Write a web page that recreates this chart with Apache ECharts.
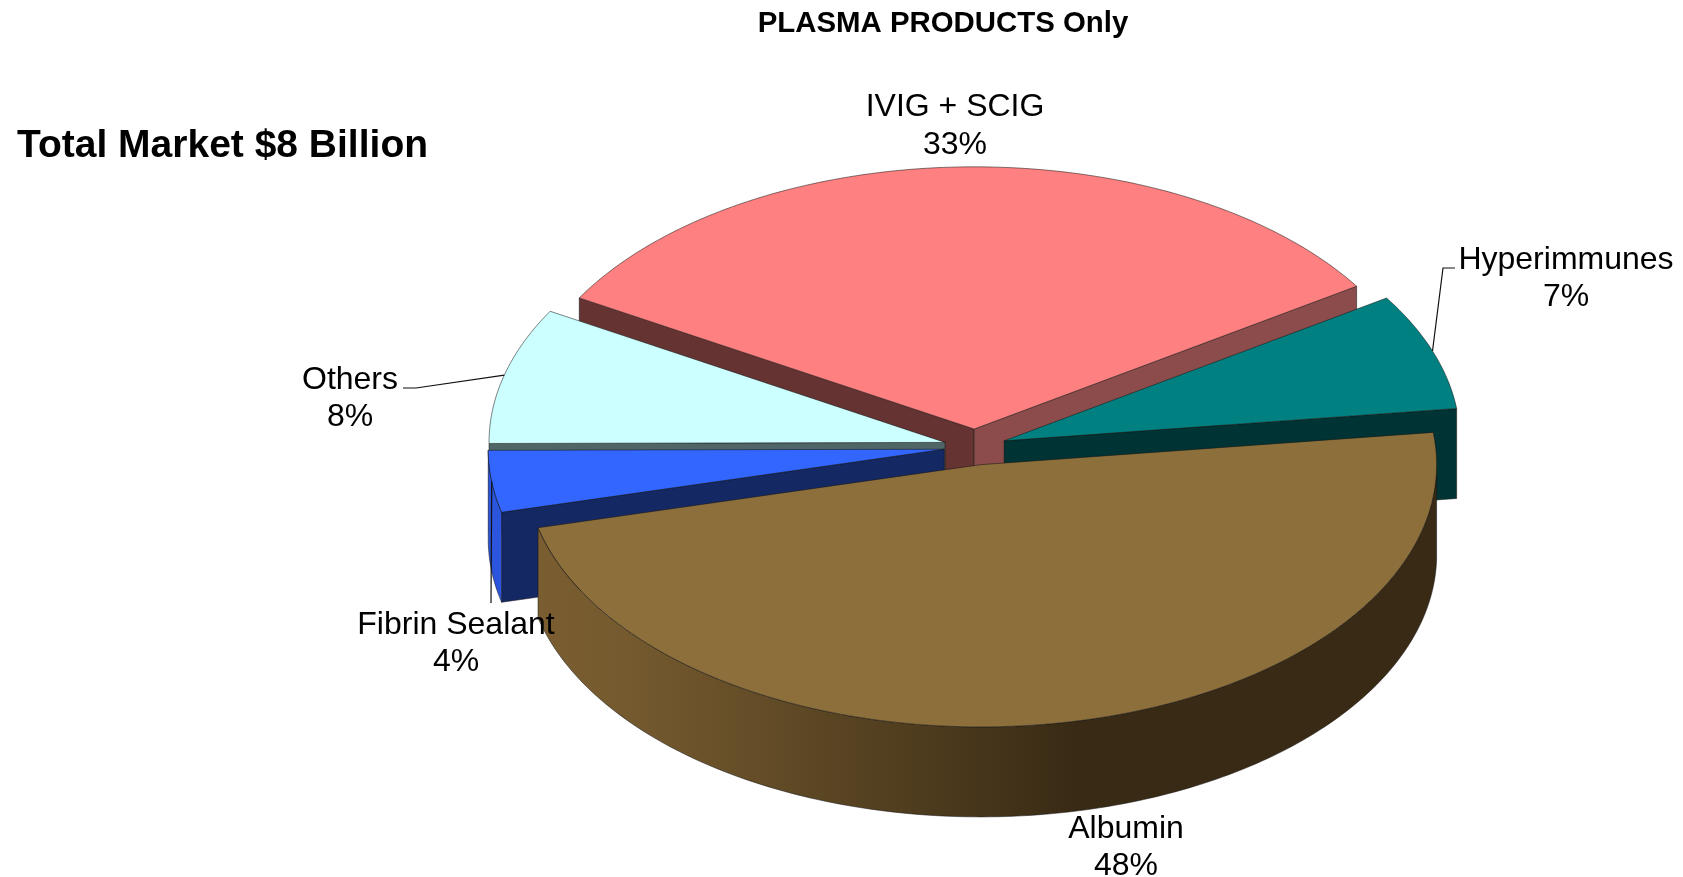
<!DOCTYPE html>
<html><head><meta charset="utf-8">
<style>html,body{margin:0;padding:0;background:#fff}#c{width:1683px;height:877px}</style>
<script src="https://cdn.jsdelivr.net/npm/echarts@6/dist/echarts.min.js"></script>
</head><body><div id="c"></div>
<script>
// Data, clockwise from the first slice (labels show them rounded)
const categories = ['IVIG + SCIG', 'Hyperimmunes', 'Albumin', 'Fibrin Sealant', 'Others'];
const shares = [32.5, 7.2, 48.1, 3.8, 8.4];
const chartTitle = 'PLASMA PRODUCTS Only';
const marketNote = 'Total Market $8 Billion';

// Styles
const topColors = ['#FF8080', '#008080', '#8D6F3C', '#3366FF', '#CCFFFF'];
const startFaceColors = ['#663333', null, null, '#142864', '#506666'];
const endFaceColors = ['#8C4C4C', '#003333', null, null, null];
const albuminWall = {type: 'linear', global: true, x: 536, y: 0, x2: 1437, y2: 0, colorStops: [
  {offset: 0, color: '#7A5E31'}, {offset: 0.1, color: '#755A2F'}, {offset: 0.25, color: '#634C27'},
  {offset: 0.46, color: '#4A391C'}, {offset: 0.6, color: '#392A15'}, {offset: 1, color: '#392A15'}]};
const wallColors = ['#8C4C4C', '#003333', albuminWall, '#2B55DD', '#506666'];

// Layout of the tilted pie
const centre = [975, 447], radius = [456, 262.2], depth = 90, explode = [31, 18], startDeg = 150;
const paintOrder = [0, 4, 1, 3, 2]; // back to front
const labelCentres = [[955, 126], [1566, 278.5], [1126, 847.5], [456, 643.5], [350, 398.5]];
const leaderElbows = [null, [[1443, 268], [1455, 268]], null, [[491, 603]], [[416, 388], [403, 388]]];
const fontFamily = '"Liberation Sans", Arial, sans-serif';

const total = shares.reduce((a, b) => a + b, 0);
const rad = d => d * Math.PI / 180;
const sliceAngles = [];
shares.reduce((from, v, i) => {
  const to = from - v / total * 360;
  sliceAngles[i] = [from, to];
  return to;
}, startDeg);

function renderSlice(params, api) {
  const i = api.value(0);
  const [a0, a1] = sliceAngles[i];
  const mid = (a0 + a1) / 2;
  const ox = centre[0] + explode[0] * Math.cos(rad(mid));
  const oy = centre[1] - explode[1] * Math.sin(rad(mid));
  const rim = (d, dz) => [ox + radius[0] * Math.cos(rad(d)), oy - radius[1] * Math.sin(rad(d)) + (dz || 0)];
  const sweep = [];
  for (let d = a0; d > a1; d -= 1) sweep.push(d);
  sweep.push(a1);
  const edge = {stroke: 'rgba(20,20,20,0.75)', lineWidth: 0.7};
  const poly = (points, fill) => ({type: 'polygon', shape: {points}, style: {fill, ...edge}});
  const children = [];
  const radial = (d, fill) => poly([[ox, oy], rim(d), rim(d, depth), [ox, oy + depth]], fill);
  if (startFaceColors[i] && Math.cos(rad(a0)) < 0) children.push(radial(a0, startFaceColors[i]));
  if (endFaceColors[i] && Math.cos(rad(a1)) > 0) children.push(radial(a1, endFaceColors[i]));
  const front = sweep.filter(d => Math.sin(rad(d)) <= 0);
  if (front.length > 1) {
    children.push(poly(front.map(d => rim(d)).concat(front.slice().reverse().map(d => rim(d, depth))), wallColors[i]));
  }
  children.push(poly([[ox, oy]].concat(sweep.map(d => rim(d))), topColors[i]));

  // Leader line from the rim at the slice's middle, then the label
  if (leaderElbows[i]) {
    children.push({type: 'polyline', z2: 50, shape: {points: [rim(mid)].concat(leaderElbows[i])},
      style: {fill: null, stroke: '#111', lineWidth: 1.2}});
  }
  children.push({type: 'text', z2: 100, style: {
    text: categories[i] + '\n' + Math.round(shares[i]) + '%',
    x: labelCentres[i][0], y: labelCentres[i][1], align: 'center', verticalAlign: 'middle',
    font: '32px ' + fontFamily, lineHeight: 37.5, fill: '#000'}});
  return {type: 'group', children};
}

const chart = echarts.init(document.getElementById('c'), null, {width: 1683, height: 877});
chart.setOption({
  animation: false,
  backgroundColor: '#fff',
  title: [
    {text: chartTitle, left: 943, top: 9, padding: 0, textAlign: 'center',
      textStyle: {fontFamily, fontWeight: 'bold', fontSize: 29.4, color: '#000'}},
    {text: marketNote, left: 17, top: 127, padding: 0,
      textStyle: {fontFamily, fontWeight: 'bold', fontSize: 39, color: '#000'}}
  ],
  series: [{
    type: 'custom',
    coordinateSystem: 'none',
    renderItem: renderSlice,
    encode: {value: 0},
    silent: true,
    data: paintOrder.map(i => ({name: categories[i], value: [i, shares[i]]}))
  }]
});
</script></body></html>
